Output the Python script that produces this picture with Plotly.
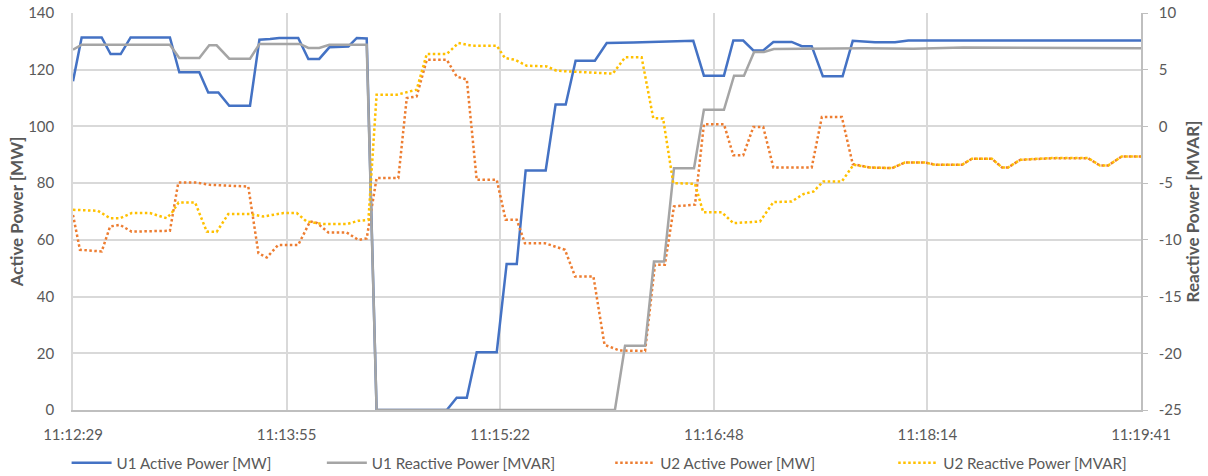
import datetime
import plotly.graph_objects as go

# ---- data (seconds after 11:12:29, value) ----
base_time = datetime.datetime(2024, 1, 1, 11, 12, 29)

u1_active_t = [0, 3.5, 11.6, 15.2, 19.3, 23.3, 39.2, 43.0, 51.1, 54.7, 58.8, 63.2, 71.6, 75.4, 79.7, 83.4,
               91.1, 95.2, 99.6, 103.7, 111.4, 114.8, 118.8, 122.8, 151.2, 155.2, 159.3, 163.3, 171.4,
               175.4, 179.5, 183.1, 191.2, 195.2, 199.3, 203.3, 211.1, 215.9, 226.6, 241.5, 250.9, 255.2,
               263.3, 267.1, 271.1, 275.2, 279.2, 283.3, 290.7, 294.8, 298.8, 303.3, 311.3, 315.4, 321.1,
               324.4, 332.5, 337.9, 432]
u1_active_v = [115.9, 131.4, 131.4, 125.5, 125.5, 131.4, 131.4, 119.1, 119.1, 112.0, 112.0, 107.3, 107.3,
               130.6, 130.8, 131.2, 131.2, 123.8, 123.8, 127.9, 128.2, 131.2, 131.0, 0, 0, 4.3, 4.3, 20.4,
               20.4, 51.5, 51.5, 84.5, 84.5, 107.7, 107.7, 123.2, 123.2, 129.4, 129.6, 130.1, 130.2, 117.9,
               117.9, 130.3, 130.3, 126.8, 126.8, 129.8, 129.8, 128.3, 128.3, 117.7, 117.7, 130.2, 129.9,
               129.7, 129.7, 130.3, 130.3]

u1_reactive_t = [0, 3.5, 39.2, 43.0, 51.1, 55.1, 58.1, 63.2, 71.6, 75.4, 91.8, 95.2, 99.6, 103.7, 118.8,
                 122.8, 219.2, 223.3, 231.4, 235.0, 239.1, 243.1, 251.2, 255.2, 263.3, 267.4, 271.4,
                 275.5, 279.5, 283.5, 320, 340, 360, 432]
u1_reactive_v = [6.76, 7.2, 7.2, 6.03, 6.03, 7.15, 7.15, 5.97, 5.97, 7.27, 7.27, 6.92, 6.92, 7.2, 7.2,
                 -25, -25, -19.33, -19.33, -11.91, -11.91, -3.68, -3.68, 1.47, 1.47, 4.47, 4.47,
                 6.56, 6.56, 6.82, 6.9, 6.85, 6.95, 6.9]

u2_active_t = [0, 2.8, 11.6, 15.0, 19.0, 23.7, 39.2, 42.6, 50.0, 55.4, 70.9, 75.0, 78.4, 83.0, 91.1, 95.9,
               98.6, 103.3, 110.7, 115.4, 118.8, 122.8, 131.6, 135.0, 139.0, 143.1, 151.2, 155.2, 159.3,
               163.3, 171.4, 175.0, 179.5, 182.8, 190.9, 199.0, 203.1, 210.5, 215.0, 221.0, 231.4, 235.4,
               239.4, 243.1, 251.6, 255.2, 263.3, 267.1, 271.1, 275.2, 279.2, 283.3, 298.8, 302.9, 311.0,
               315.4, 322.4, 331.3, 336.5, 344.6, 348.7, 359.6, 363.6, 371.7, 375.8, 378.2, 383.1, 396.0,
               410.6, 415.4, 418.7, 424.2, 432]
u2_active_v = [68.8, 56.5, 55.9, 64.7, 65.3, 62.9, 63.2, 80.2, 80.2, 79.4, 78.8, 55.3, 53.8, 58.2, 58.2,
               66.5, 66.0, 62.6, 62.6, 60.0, 60.5, 81.8, 81.8, 110.0, 110.6, 123.5, 123.5, 117.6, 116.5,
               81.2, 81.2, 67.1, 67.1, 58.8, 58.8, 56.5, 47.1, 47.1, 23.0, 21.0, 20.8, 51.2, 51.2, 71.8,
               72.4, 100.8, 100.8, 89.8, 89.8, 99.8, 99.8, 85.5, 85.5, 103.3, 103.3, 86.7, 85.5, 85.3,
               87.3, 87.3, 86.5, 86.5, 88.6, 88.6, 85.5, 85.5, 88.2, 88.8, 88.8, 86.2, 86.2, 89.4, 89.4]

u2_reactive_t = [0, 10.1, 15.0, 19.0, 23.7, 31.1, 37.9, 39.9, 42.7, 49.4, 54.1, 58.1, 62.8, 71.6, 77.0,
                 85.1, 90.5, 94.5, 101.2, 110.7, 115.4, 119.5, 122.8, 130.9, 139.0, 143.1, 151.2, 155.9,
                 161.3, 171.4, 174.7, 178.7, 183.5, 191.6, 195.6, 218.3, 223.3, 230.0, 234.7, 238.7,
                 242.8, 251.6, 254.9, 262.4, 267.1, 277.9, 283.3, 290.7, 295.4, 299.5, 303.5, 311.0,
                 315.7, 322.4, 331.3, 336.5, 344.6, 348.7, 359.6, 363.6, 371.7, 375.8, 378.2, 383.1,
                 396.0, 410.6, 415.4, 418.7, 424.2, 432]
u2_reactive_v = [-7.35, -7.44, -8.09, -8.09, -7.64, -7.64, -8.09, -7.64, -6.71, -6.71, -9.27, -9.3, -7.73,
                 -7.73, -7.94, -7.64, -7.64, -8.38, -8.61, -8.61, -8.32, -8.24, 2.79, 2.79, 3.24, 6.39,
                 6.39, 7.35, 7.12, 7.12, 6.03, 5.88, 5.35, 5.29, 4.91, 4.65, 6.09, 6.09, 0.74, 0.70,
                 -5.0, -5.06, -7.56, -7.56, -8.53, -8.38, -6.67, -6.62, -5.97, -5.74, -4.85, -4.85,
                 -3.38, -3.62, -3.67, -3.18, -3.18, -3.38, -3.38, -2.85, -2.85, -3.62, -3.62, -2.94,
                 -2.79, -2.79, -3.44, -3.44, -2.65, -2.65]

tick_seconds = [0, 86.4, 172.8, 259.2, 345.6, 432]
tick_labels = ["11:12:29", "11:13:55", "11:15:22", "11:16:48", "11:18:14", "11:19:41"]

mvar_ticks = [-25, -20, -15, -10, -5, 0, 5, 10]
mvar_tick_labels = ["-25", "-20", "-15", "-10", "-5", "0", "5", "10"]

series_names = ["U1 Active Power [MW]", "U1 Reactive Power [MVAR]",
                "U2 Active Power [MW]", "U2 Reactive Power [MVAR]"]


def to_time(secs):
    return [base_time + datetime.timedelta(seconds=s) for s in secs]


FONT = "Lato, Carlito, 'Liberation Sans', sans-serif"
GREY_TXT = "#595959"
GRID = "#D9D9D9"

fig = go.Figure()
fig.add_trace(go.Scatter(x=to_time(u1_active_t), y=u1_active_v, name=series_names[0], mode="lines",
                         legend="legend", line=dict(color="#4472C4", width=2.5)))
fig.add_trace(go.Scatter(x=to_time(u1_reactive_t), y=u1_reactive_v, name=series_names[1], mode="lines",
                         yaxis="y2", legend="legend2", line=dict(color="#A5A5A5", width=2.5)))
fig.add_trace(go.Scatter(x=to_time(u2_active_t), y=u2_active_v, name=series_names[2], mode="lines",
                         legend="legend3", line=dict(color="#ED7D31", width=2.5, dash="2.5px,2.5px")))
fig.add_trace(go.Scatter(x=to_time(u2_reactive_t), y=u2_reactive_v, name=series_names[3], mode="lines",
                         yaxis="y2", legend="legend4",
                         line=dict(color="#FFC000", width=2.5, dash="2.5px,2.5px")))


def legend_at(xpos):
    return dict(orientation="h", x=xpos, xanchor="left", y=-0.133, yanchor="middle",
                itemwidth=40, bgcolor="rgba(0,0,0,0)",
                font=dict(family=FONT, size=15.2, color=GREY_TXT))


fig.update_layout(
    width=1208, height=476,
    margin=dict(l=73, r=67, t=13, b=66, autoexpand=False),
    paper_bgcolor="white", plot_bgcolor="white",
    font=dict(family=FONT, size=15, color=GREY_TXT),
    showlegend=True,
    legend=legend_at(-0.006),
    legend2=legend_at(0.233),
    legend3=legend_at(0.503),
    legend4=legend_at(0.768),
    xaxis=dict(
        type="date", automargin=False,
        range=[to_time([0])[0], to_time([432])[0]],
        tickvals=to_time(tick_seconds), ticktext=tick_labels,
        showgrid=True, gridcolor=GRID, gridwidth=1.5,
        showline=True, linecolor="#BFBFBF", linewidth=1.5,
        ticks="", ticklabelstandoff=10, ticklabeloverflow="allow",
        tickfont=dict(size=15, color=GREY_TXT), zeroline=False,
    ),
    yaxis=dict(
        range=[0, 140], dtick=20, tick0=0, automargin=False,
        showgrid=True, gridcolor=GRID, gridwidth=1.5,
        showline=True, linecolor=GRID, linewidth=1.5,
        zeroline=False, ticks="", ticklabelstandoff=14, ticklabeloverflow="allow",
        tickfont=dict(size=15, color=GREY_TXT),
        title=dict(text="<b>Active Power [MW]</b>", font=dict(size=17, color=GREY_TXT), standoff=0),
    ),
    yaxis2=dict(
        range=[-25, 10], tickvals=mvar_ticks, ticktext=mvar_tick_labels,
        overlaying="y", side="right", automargin=False,
        showgrid=False, zeroline=False,
        showline=True, linecolor="#BFBFBF", linewidth=1.5,
        ticks="outside", ticklen=5, tickcolor="#BFBFBF", ticklabelstandoff=8,
        ticklabeloverflow="allow",
        tickfont=dict(size=15, color=GREY_TXT),
        title=dict(text="<b>Reactive Power [MVAR]</b>", font=dict(size=17, color=GREY_TXT), standoff=4),
    ),
)

# remove the default 8px page margin so the 1208x476 figure fills the window exactly
fig.write_html("out.html", config={"displayModeBar": False},
               post_script="document.body.style.margin='0';document.body.style.overflow='hidden';")
